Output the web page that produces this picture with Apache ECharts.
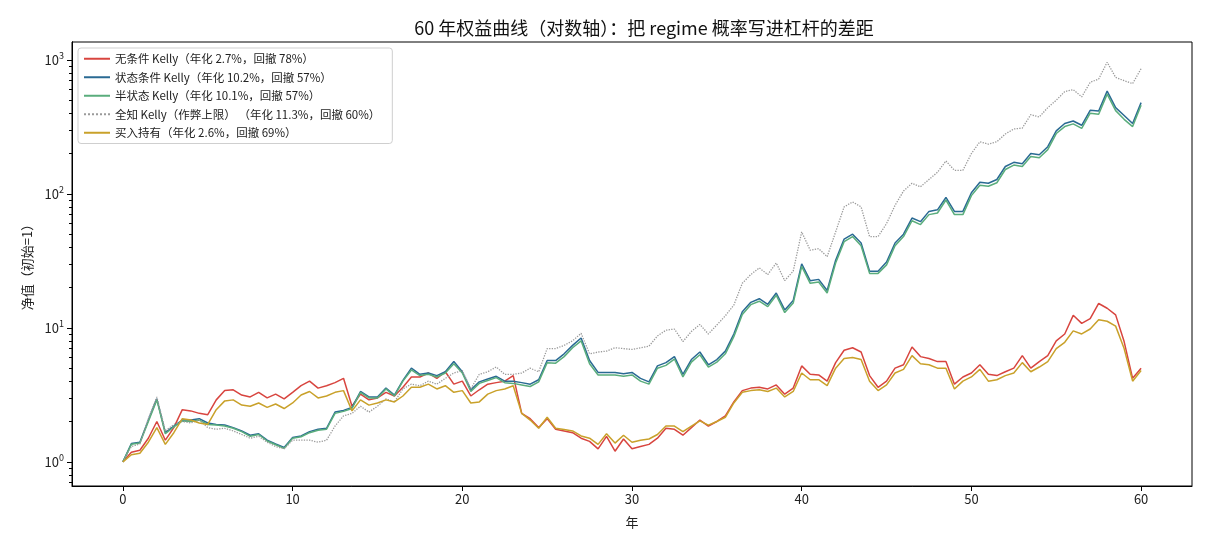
<!DOCTYPE html>
<html>
<head>
<meta charset="utf-8">
<script src="https://cdn.jsdelivr.net/npm/echarts@6/dist/echarts.min.js"></script>
<style>
  html, body { margin: 0; padding: 0; background: #fff; }
  #chart { width: 1210px; height: 550px; }
</style>
</head>
<body>
<div id="chart"></div>
<script>
// time grid (years), sampled every half year
const years = [
  0, 0.5, 1, 1.5, 2, 2.5, 3, 3.5, 4, 4.5, 5, 5.5, 6, 6.5, 7, 7.5, 8, 8.5, 9, 9.5,
  10, 10.5, 11, 11.5, 12, 12.5, 13, 13.5, 14, 14.5, 15, 15.5, 16, 16.5, 17, 17.5, 18, 18.5, 19, 19.5,
  20, 20.5, 21, 21.5, 22, 22.5, 23, 23.5, 24, 24.5, 25, 25.5, 26, 26.5, 27, 27.5, 28, 28.5, 29, 29.5,
  30, 30.5, 31, 31.5, 32, 32.5, 33, 33.5, 34, 34.5, 35, 35.5, 36, 36.5, 37, 37.5, 38, 38.5, 39, 39.5,
  40, 40.5, 41, 41.5, 42, 42.5, 43, 43.5, 44, 44.5, 45, 45.5, 46, 46.5, 47, 47.5, 48, 48.5, 49, 49.5,
  50, 50.5, 51, 51.5, 52, 52.5, 53, 53.5, 54, 54.5, 55, 55.5, 56, 56.5, 57, 57.5, 58, 58.5, 59, 59.5, 60
]

// 无条件 Kelly
const kellyPlain = [
  1.00, 1.18, 1.22, 1.50, 2.00, 1.45, 1.80, 2.45, 2.40, 2.30, 2.25, 2.90, 3.40, 3.45, 3.15, 3.05, 3.30, 3.00, 3.20, 2.95,
  3.30, 3.70, 4.00, 3.55, 3.70, 3.90, 4.20, 2.60, 3.20, 2.90, 3.00, 3.30, 3.10, 3.60, 4.30, 4.30, 4.60, 4.20, 4.70, 3.80,
  4.00, 3.10, 3.45, 3.80, 3.90, 4.00, 4.40, 2.30, 2.10, 1.80, 2.10, 1.75, 1.70, 1.65, 1.50, 1.42, 1.25, 1.55, 1.20, 1.48,
  1.25, 1.30, 1.35, 1.50, 1.78, 1.75, 1.58, 1.80, 2.05, 1.85, 2.00, 2.20, 2.80, 3.40, 3.55, 3.60, 3.50, 3.75, 3.20, 3.55,
  5.20, 4.50, 4.45, 4.00, 5.50, 6.80, 7.10, 6.60, 4.40, 3.60, 4.00, 5.00, 5.30, 7.20, 6.10, 5.90, 5.60, 5.60, 3.80, 4.30,
  4.60, 5.30, 4.50, 4.40, 4.70, 5.00, 6.20, 5.00, 5.60, 6.20, 8.00, 9.00, 12.4, 10.8, 11.7, 15.2, 14.0, 12.5, 7.90, 4.20, 5.00
]

// 状态条件 Kelly
const kellyRegime = [
  1.00, 1.37, 1.40, 2.05, 2.95, 1.65, 1.85, 2.05, 2.05, 2.10, 1.95, 1.90, 1.88, 1.80, 1.70, 1.58, 1.62, 1.45, 1.36, 1.28,
  1.52, 1.56, 1.68, 1.75, 1.78, 2.35, 2.42, 2.55, 3.35, 3.05, 3.05, 3.55, 3.15, 4.05, 5.00, 4.50, 4.60, 4.40, 4.70, 5.60,
  4.70, 3.45, 3.95, 4.15, 4.35, 4.00, 4.00, 3.90, 3.80, 4.10, 5.70, 5.70, 6.40, 7.40, 8.40, 5.70, 4.65, 4.65, 4.65, 4.55,
  4.65, 4.20, 3.95, 5.20, 5.50, 6.10, 4.50, 5.80, 6.60, 5.30, 5.80, 6.70, 9.00, 13.2, 15.5, 16.5, 15.0, 18.2, 13.6, 16.0,
  30.0, 22.5, 23.0, 19.0, 32.0, 46.0, 50.0, 43.0, 26.5, 26.5, 31.0, 43.0, 50.0, 66.0, 62.0, 74.0, 76.0, 94.0, 74.0, 74.0,
  102, 122, 120, 128, 160, 172, 168, 200, 196, 225, 295, 335, 350, 325, 420, 415, 585, 440, 385, 335, 480
]

// 半状态 Kelly
const kellyHalf = [
  1.00, 1.35, 1.38, 2.00, 2.90, 1.62, 1.82, 2.02, 2.00, 2.05, 1.90, 1.88, 1.85, 1.78, 1.68, 1.55, 1.60, 1.43, 1.34, 1.26,
  1.50, 1.54, 1.65, 1.72, 1.75, 2.30, 2.38, 2.50, 3.30, 3.00, 3.00, 3.50, 3.10, 4.00, 4.85, 4.40, 4.50, 4.30, 4.60, 5.40,
  4.60, 3.35, 3.85, 4.05, 4.25, 3.90, 3.85, 3.75, 3.65, 3.95, 5.50, 5.45, 6.10, 7.10, 8.00, 5.40, 4.45, 4.45, 4.45, 4.35,
  4.45, 4.00, 3.80, 5.00, 5.25, 5.85, 4.30, 5.55, 6.30, 5.10, 5.55, 6.40, 8.60, 12.6, 14.9, 15.8, 14.4, 17.5, 13.0, 15.3,
  28.8, 21.5, 22.0, 18.2, 30.5, 44.0, 48.0, 41.0, 25.5, 25.5, 29.5, 41.0, 48.0, 63.0, 59.0, 70.0, 72.0, 90.0, 70.0, 70.0,
  97.0, 116, 114, 121, 152, 164, 160, 190, 186, 214, 282, 318, 333, 308, 400, 393, 555, 418, 360, 318, 458
]

// 全知 Kelly（作弊上限）
const kellyOracle = [
  1.00, 1.30, 1.36, 2.10, 3.05, 1.70, 1.90, 2.00, 1.95, 2.05, 1.80, 1.75, 1.78, 1.70, 1.60, 1.50, 1.55, 1.40, 1.30, 1.25,
  1.45, 1.45, 1.45, 1.40, 1.45, 1.85, 2.20, 2.30, 2.60, 2.35, 2.60, 2.95, 2.80, 3.50, 3.80, 3.70, 4.00, 3.80, 4.20, 4.60,
  4.80, 3.50, 4.50, 4.70, 5.10, 4.50, 4.50, 4.60, 5.00, 4.70, 7.00, 7.00, 7.40, 8.00, 9.10, 6.40, 6.60, 6.70, 7.10, 7.00,
  6.90, 7.10, 7.30, 8.70, 9.60, 9.80, 7.90, 9.40, 10.6, 9.00, 10.5, 12.3, 14.8, 21.5, 25.0, 28.0, 25.0, 30.5, 22.5, 26.5,
  52.0, 38.0, 39.0, 34.0, 52.0, 80.0, 87.0, 80.0, 48.0, 48.0, 60.0, 82.0, 105, 120, 113, 128, 145, 176, 150, 150,
  200, 245, 235, 245, 280, 305, 310, 390, 375, 440, 500, 580, 600, 530, 680, 720, 960, 740, 700, 665, 860
]

// 买入持有
const buyHold = [
  1.00, 1.13, 1.16, 1.40, 1.80, 1.35, 1.65, 2.10, 2.05, 1.95, 1.90, 2.45, 2.85, 2.90, 2.65, 2.60, 2.75, 2.55, 2.70, 2.50,
  2.75, 3.15, 3.35, 3.00, 3.10, 3.30, 3.40, 2.40, 2.90, 2.65, 2.75, 2.90, 2.80, 3.10, 3.60, 3.60, 3.80, 3.50, 3.70, 3.30,
  3.40, 2.75, 2.80, 3.20, 3.40, 3.50, 3.70, 2.30, 2.05, 1.78, 2.15, 1.78, 1.74, 1.70, 1.56, 1.50, 1.35, 1.62, 1.38, 1.58,
  1.40, 1.45, 1.48, 1.60, 1.85, 1.85, 1.68, 1.85, 2.02, 1.88, 2.00, 2.15, 2.75, 3.30, 3.40, 3.45, 3.35, 3.55, 3.05, 3.35,
  4.60, 4.10, 4.10, 3.70, 5.00, 5.90, 6.00, 5.80, 4.00, 3.40, 3.75, 4.60, 4.90, 6.20, 5.40, 5.30, 5.00, 5.00, 3.50, 4.00,
  4.30, 4.90, 4.00, 4.10, 4.40, 4.60, 5.50, 4.70, 5.10, 5.60, 7.00, 7.80, 9.50, 9.00, 9.80, 11.5, 11.2, 10.3, 7.00, 4.00, 4.80
]

const seriesNames = [
  "无条件 Kelly（年化 2.7%，回撤 78%）",
  "状态条件 Kelly（年化 10.2%，回撤 57%）",
  "半状态 Kelly（年化 10.1%，回撤 57%）",
  "全知 Kelly（作弊上限） （年化 11.3%，回撤 60%）",
  "买入持有（年化 2.6%，回撤 69%）",
]

const xTicks = [0, 10, 20, 30, 40, 50, 60]
const yMajor = [1, 10, 100, 1000]
const yMinor = [0.7, 0.8, 0.9, 2, 3, 4, 5, 6, 7, 8, 9, 20, 30, 40, 50, 60, 70, 80, 90,
  200, 300, 400, 500, 600, 700, 800, 900]

const font = "'Noto Sans CJK SC', 'Noto Sans', sans-serif"

const pairs = (vals) => years.map((x, i) => [x, vals[i]])

const chart = echarts.init(document.getElementById("chart"), null, { renderer: "canvas" })

const yBase = {
  type: "log",
  logBase: 10,
  min: 0.66,
  max: 1360,
  position: "left",
  splitLine: { show: false },
  axisLine: { show: true, onZero: false, lineStyle: { color: "#000", width: 1 } },
}

const lineSeries = (name, vals, color, extra) => ({
  name,
  type: "line",
  data: pairs(vals),
  showSymbol: false,
  symbol: "none",
  lineStyle: { color, width: 1.5, ...extra },
  itemStyle: { color },
})

const option = {
  backgroundColor: "#fff",
  animation: false,
  textStyle: { fontFamily: font },
  title: {
    text: "60 年权益曲线（对数轴）：把 regime 概率写进杠杆的差距",
    left: 639,
    textAlign: "center",
    top: 14,
    textStyle: { fontSize: 18, fontWeight: "normal", color: "#111", fontFamily: font },
  },
  legend: {
    orient: "vertical",
    left: 78,
    top: 48,
    itemWidth: 26,
    itemHeight: 12,
    itemGap: 7,
    padding: [5, 12, 5, 5],
    backgroundColor: "rgba(255,255,255,0.85)",
    borderColor: "#cfcfcf",
    borderWidth: 1,
    borderRadius: 3,
    itemStyle: { opacity: 0 },
    textStyle: { fontSize: 11.5, color: "#222", fontFamily: font },
    data: seriesNames,
  },
  grid: {
    left: 72,
    right: 18,
    top: 42,
    bottom: 64,
    show: true,
    borderColor: "#000",
    borderWidth: 1,
    backgroundColor: "transparent",
  },
  xAxis: {
    type: "value",
    min: -3,
    max: 63,
    name: "年",
    nameLocation: "middle",
    nameGap: 30,
    nameTextStyle: { fontSize: 13, color: "#222" },
    axisLine: { show: true, onZero: false, lineStyle: { color: "#000", width: 1 } },
    splitLine: { show: false },
    axisTick: { show: true, inside: false, customValues: xTicks, length: 5, lineStyle: { color: "#000", width: 1 } },
    axisLabel: { customValues: xTicks, fontSize: 13, color: "#222", margin: 7 },
  },
  yAxis: [
    {
      ...yBase,
      name: "净值（初始=1）",
      nameLocation: "middle",
      nameGap: 38,
      nameRotate: 90,
      nameTextStyle: { fontSize: 13, color: "#222" },
      axisTick: { show: true, inside: false, customValues: yMajor, length: 5, lineStyle: { color: "#000", width: 1 } },
      axisLabel: {
        customValues: yMajor,
        margin: 8,
        formatter: (v) => "{b|10}{s|" + Math.round(Math.log10(v)) + "}",
        rich: {
          b: { fontSize: 13, color: "#222", fontFamily: font },
          s: { fontSize: 9, color: "#222", fontFamily: font, padding: [0, 0, 9, 0] },
        },
      },
    },
    {
      ...yBase,
      axisTick: { show: true, inside: false, customValues: yMinor, length: 3, lineStyle: { color: "#000", width: 1 } },
      axisLabel: { show: false },
    },
  ],
  series: [
    lineSeries(seriesNames[0], kellyPlain, "#d8453f"),
    lineSeries(seriesNames[1], kellyRegime, "#2a6a93"),
    lineSeries(seriesNames[2], kellyHalf, "#5aad7c"),
    lineSeries(seriesNames[3], kellyOracle, "#9a9a9a", { type: "dotted", width: 1.3 }),
    lineSeries(seriesNames[4], buyHold, "#c9a12a"),
  ],
}

chart.setOption(option)
</script>
</body>
</html>
